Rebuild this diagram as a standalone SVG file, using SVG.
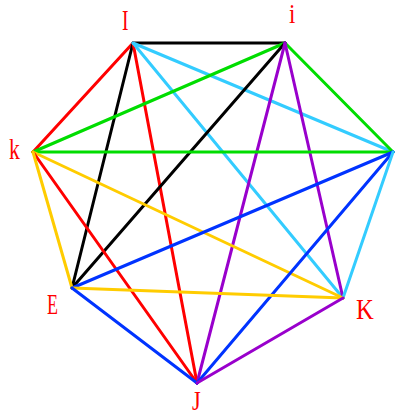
<svg xmlns="http://www.w3.org/2000/svg" width="407" height="416" viewBox="0 0 407 416">
<style>
line{stroke-width:3;stroke-linecap:round}
.r{stroke:#ff0000}.k{stroke:#000000}.c{stroke:#33ccff}.g{stroke:#00dd00}.y{stroke:#ffcc00}.b{stroke:#0033ff}.p{stroke:#9900cc}
text{font-family:"Liberation Serif",serif;font-size:30px;fill:#ff0000}
</style>
<rect width="407" height="416" fill="#ffffff"/>
<g id="connectors">
<line class="k" x1="133" y1="43" x2="285" y2="43"/>
<line class="r" x1="133" y1="43" x2="33" y2="152"/>
<line class="k" x1="133" y1="43" x2="72" y2="288"/>
<line class="r" x1="133" y1="43" x2="197" y2="383"/>
<line class="c" x1="133" y1="43" x2="343" y2="298"/>
<line class="c" x1="133" y1="43" x2="393" y2="152"/>
<line class="g" x1="285" y1="43" x2="33" y2="152"/>
<line class="g" x1="285" y1="43" x2="393" y2="152"/>
<line class="k" x1="285" y1="43" x2="72" y2="288"/>
<line class="p" x1="285" y1="43" x2="197" y2="383"/>
<line class="p" x1="285" y1="43" x2="343" y2="298"/>
<line class="g" x1="33" y1="152" x2="393" y2="152"/>
<line class="y" x1="33" y1="152" x2="343" y2="298"/>
<line class="r" x1="33" y1="152" x2="197" y2="383"/>
<line class="y" x1="33" y1="152" x2="72" y2="288"/>
<line class="b" x1="393" y1="152" x2="72" y2="288"/>
<line class="b" x1="393" y1="152" x2="197" y2="383"/>
<line class="c" x1="393" y1="152" x2="343" y2="298"/>
<line class="y" x1="72" y1="288" x2="343" y2="298"/>
<line class="b" x1="72" y1="288" x2="197" y2="383"/>
<line class="p" x1="197" y1="383" x2="343" y2="298"/>
</g>
<g id="node-I"><text transform="translate(122,30) scale(0.65,1)">I</text></g>
<g id="node-i"><text transform="translate(289,23) scale(0.85,1)" style="font-size:27px">i</text></g>
<g id="node-k"><text transform="translate(9,159) scale(0.72,1)">k</text></g>
<g id="node-R"><circle cx="393" cy="152" r="0.1" fill="none"/></g>
<g id="node-E"><text transform="translate(47,314) scale(0.6,1)">E</text></g>
<g id="node-J"><text transform="translate(192,410) scale(0.8,1)" style="font-size:28px">J</text></g>
<g id="node-K"><text transform="translate(356,319) scale(0.82,1)">K</text></g>
</svg>
